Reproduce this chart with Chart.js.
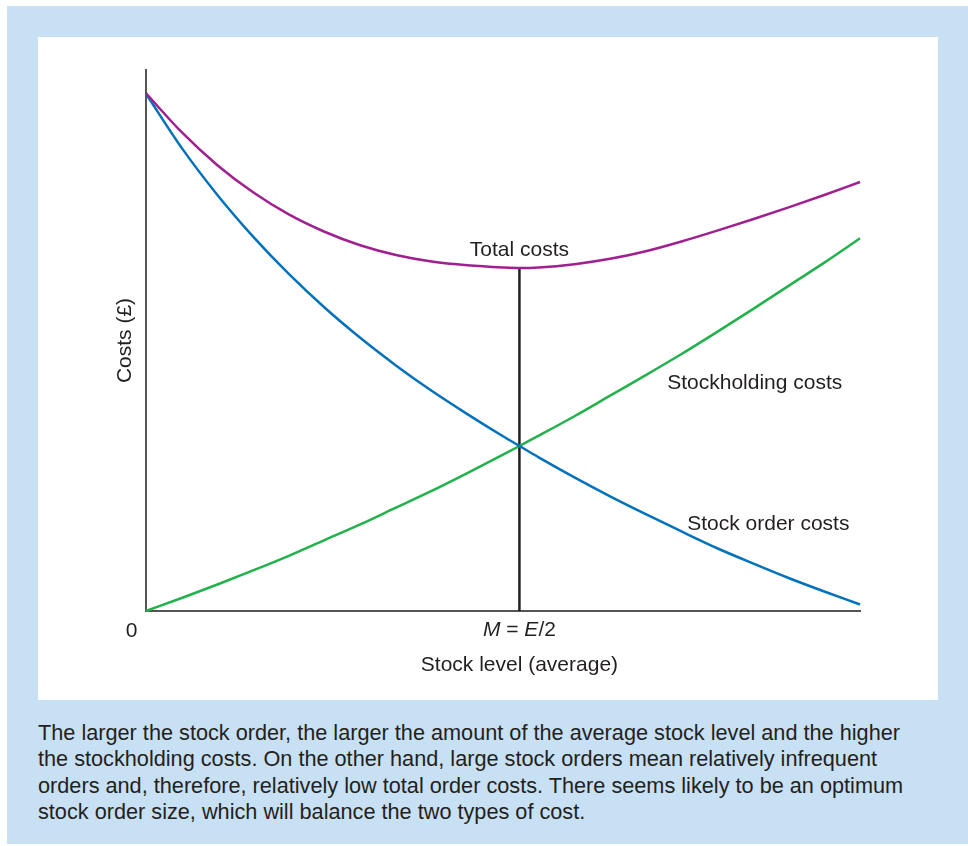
<!DOCTYPE html>
<html>
<head>
<meta charset="utf-8">
<script src="https://cdn.jsdelivr.net/npm/chart.js@4"></script>
<style>
  html, body { margin:0; padding:0; background:#fff; }
  body { width:968px; height:846px; position:relative; overflow:hidden; font-family:"Liberation Sans", Arial, sans-serif; }
  #box { position:absolute; left:7px; top:6px; width:961px; height:838px; background:#c8e0f4; }
  #panel { position:absolute; left:31px; top:31px; width:900px; height:663px; background:#fff; }
  #caption { position:absolute; left:31px; top:714px; font-size:21.7px; line-height:26.3px; color:#231f20; white-space:nowrap; }
</style>
</head>
<body>
<div id="box">
  <div id="panel"><canvas id="myChart" width="900" height="663"></canvas></div>
  <div id="caption">The larger the stock order, the larger the amount of the average stock level and the higher<br>the stockholding costs. On the other hand, large stock orders mean relatively infrequent<br>orders and, therefore, relatively low total order costs. There seems likely to be an optimum<br>stock order size, which will balance the two types of cost.</div>
</div>
<script>
// valores (eje x: 0-100, eje y: 0-100)
const stockLevel = [0, 5, 10, 15, 20, 25, 30, 35, 40, 45, 50, 52.3, 55, 60, 65, 70, 75, 80, 85, 90, 95, 100]
const orderCosts = [95.6, 85.6, 76.9, 69.2, 62.3, 56.1, 50.5, 45.4, 40.7, 36.4, 32.3, 30.5, 28.4, 24.7, 21.2, 17.9, 14.7, 11.6, 8.8, 6.1, 3.6, 1.2]
const holdingCosts = [0, 2.4, 4.9, 7.5, 10.2, 13.1, 16.0, 19.1, 22.2, 25.5, 28.9, 30.5, 32.4, 36.0, 39.8, 43.6, 47.5, 51.6, 55.8, 60.1, 64.4, 68.9]
const totalCosts = [95.7, 88.5, 82.4, 77.4, 73.3, 70.1, 67.6, 65.8, 64.6, 63.9, 63.5, 63.4, 63.5, 64.1, 65.1, 66.5, 68.3, 70.3, 72.4, 74.6, 76.9, 79.3]
const optimum = 52.3 // M = E/2

const textColor = '#231f20'
const font = '21px "Liberation Sans", Arial, sans-serif'
const italic = 'italic 21px "Liberation Sans", Arial, sans-serif'

function puntos(valores){
    return stockLevel.map((x, i) => ({x: x, y: valores[i]}))
}

// textos dentro del grafico
const etiquetas = {
    id: 'etiquetas',
    afterDatasetsDraw(chart){
        const c = chart.ctx
        const xs = chart.scales.x
        const ys = chart.scales.y
        const minTotal = totalCosts[stockLevel.indexOf(optimum)]
        c.save()
        c.fillStyle = textColor
        c.font = font
        c.textBaseline = 'alphabetic'

        c.textAlign = 'center'
        c.fillText('Total costs', xs.getPixelForValue(optimum), ys.getPixelForValue(minTotal) - 12)

        c.textAlign = 'left'
        c.fillText('Stockholding costs', xs.getPixelForValue(73.0), ys.getPixelForValue(41.0))
        c.fillText('Stock order costs', xs.getPixelForValue(75.8), ys.getPixelForValue(15.0))

        // etiquetas del eje x
        const base = ys.getPixelForValue(0)
        c.textAlign = 'center'
        c.fillText('0', xs.getPixelForValue(0) - 14.5, base + 26)
        c.fillText('Stock level (average)', xs.getPixelForValue(optimum), base + 60)

        // M = E/2 con cursivas
        const partes = [['M', italic], [' = ', font], ['E', italic], ['/2', font]]
        let ancho = 0
        partes.forEach(p => { c.font = p[1]; ancho += c.measureText(p[0]).width })
        let px = xs.getPixelForValue(optimum) - ancho / 2
        c.textAlign = 'left'
        partes.forEach(p => {
            c.font = p[1]
            c.fillText(p[0], px, base + 25)
            px += c.measureText(p[0]).width
        })

        // titulo del eje y
        c.font = font
        c.translate(xs.getPixelForValue(0) - 15, (ys.top + ys.bottom) / 2)
        c.rotate(-Math.PI / 2)
        c.textAlign = 'center'
        c.fillText('Costs (£)', 0, 0)
        c.restore()
    }
}

function grafico_costos(){
    const ctx = document.getElementById('myChart')
    const serie = (label, valores, color) => ({
        label: label,
        data: puntos(valores),
        borderColor: color,
        borderWidth: 2.5,
        pointRadius: 0,
        cubicInterpolationMode: 'monotone',
        clip: false
    })

    new Chart(ctx, {
        type: 'line',
        data: {
            datasets: [
                serie('Total costs', totalCosts, '#a0208f'),
                serie('Stock order costs', orderCosts, '#0072bc'),
                serie('Stockholding costs', holdingCosts, '#22b24c'),
                {
                    label: 'M',
                    data: [{x: optimum, y: 0}, {x: optimum, y: totalCosts[stockLevel.indexOf(optimum)]}],
                    borderColor: textColor,
                    borderWidth: 2.5,
                    pointRadius: 0,
                    clip: false
                }
            ]
        },
        options: {
            responsive: false,
            animation: false,
            layout: { padding: { left: 100, right: 78, top: 33, bottom: 81 } },
            plugins: { legend: { display: false }, tooltip: { enabled: false } },
            scales: {
                x: {
                    type: 'linear', min: 0, max: 100,
                    grid: { display: false },
                    ticks: { display: false },
                    border: { display: true, color: '#555', width: 2 }
                },
                y: {
                    type: 'linear', min: 0, max: 100,
                    grid: { display: false },
                    ticks: { display: false },
                    border: { display: true, color: '#555', width: 2 }
                }
            }
        },
        plugins: [etiquetas]
    })
}

grafico_costos()
</script>
</body>
</html>
